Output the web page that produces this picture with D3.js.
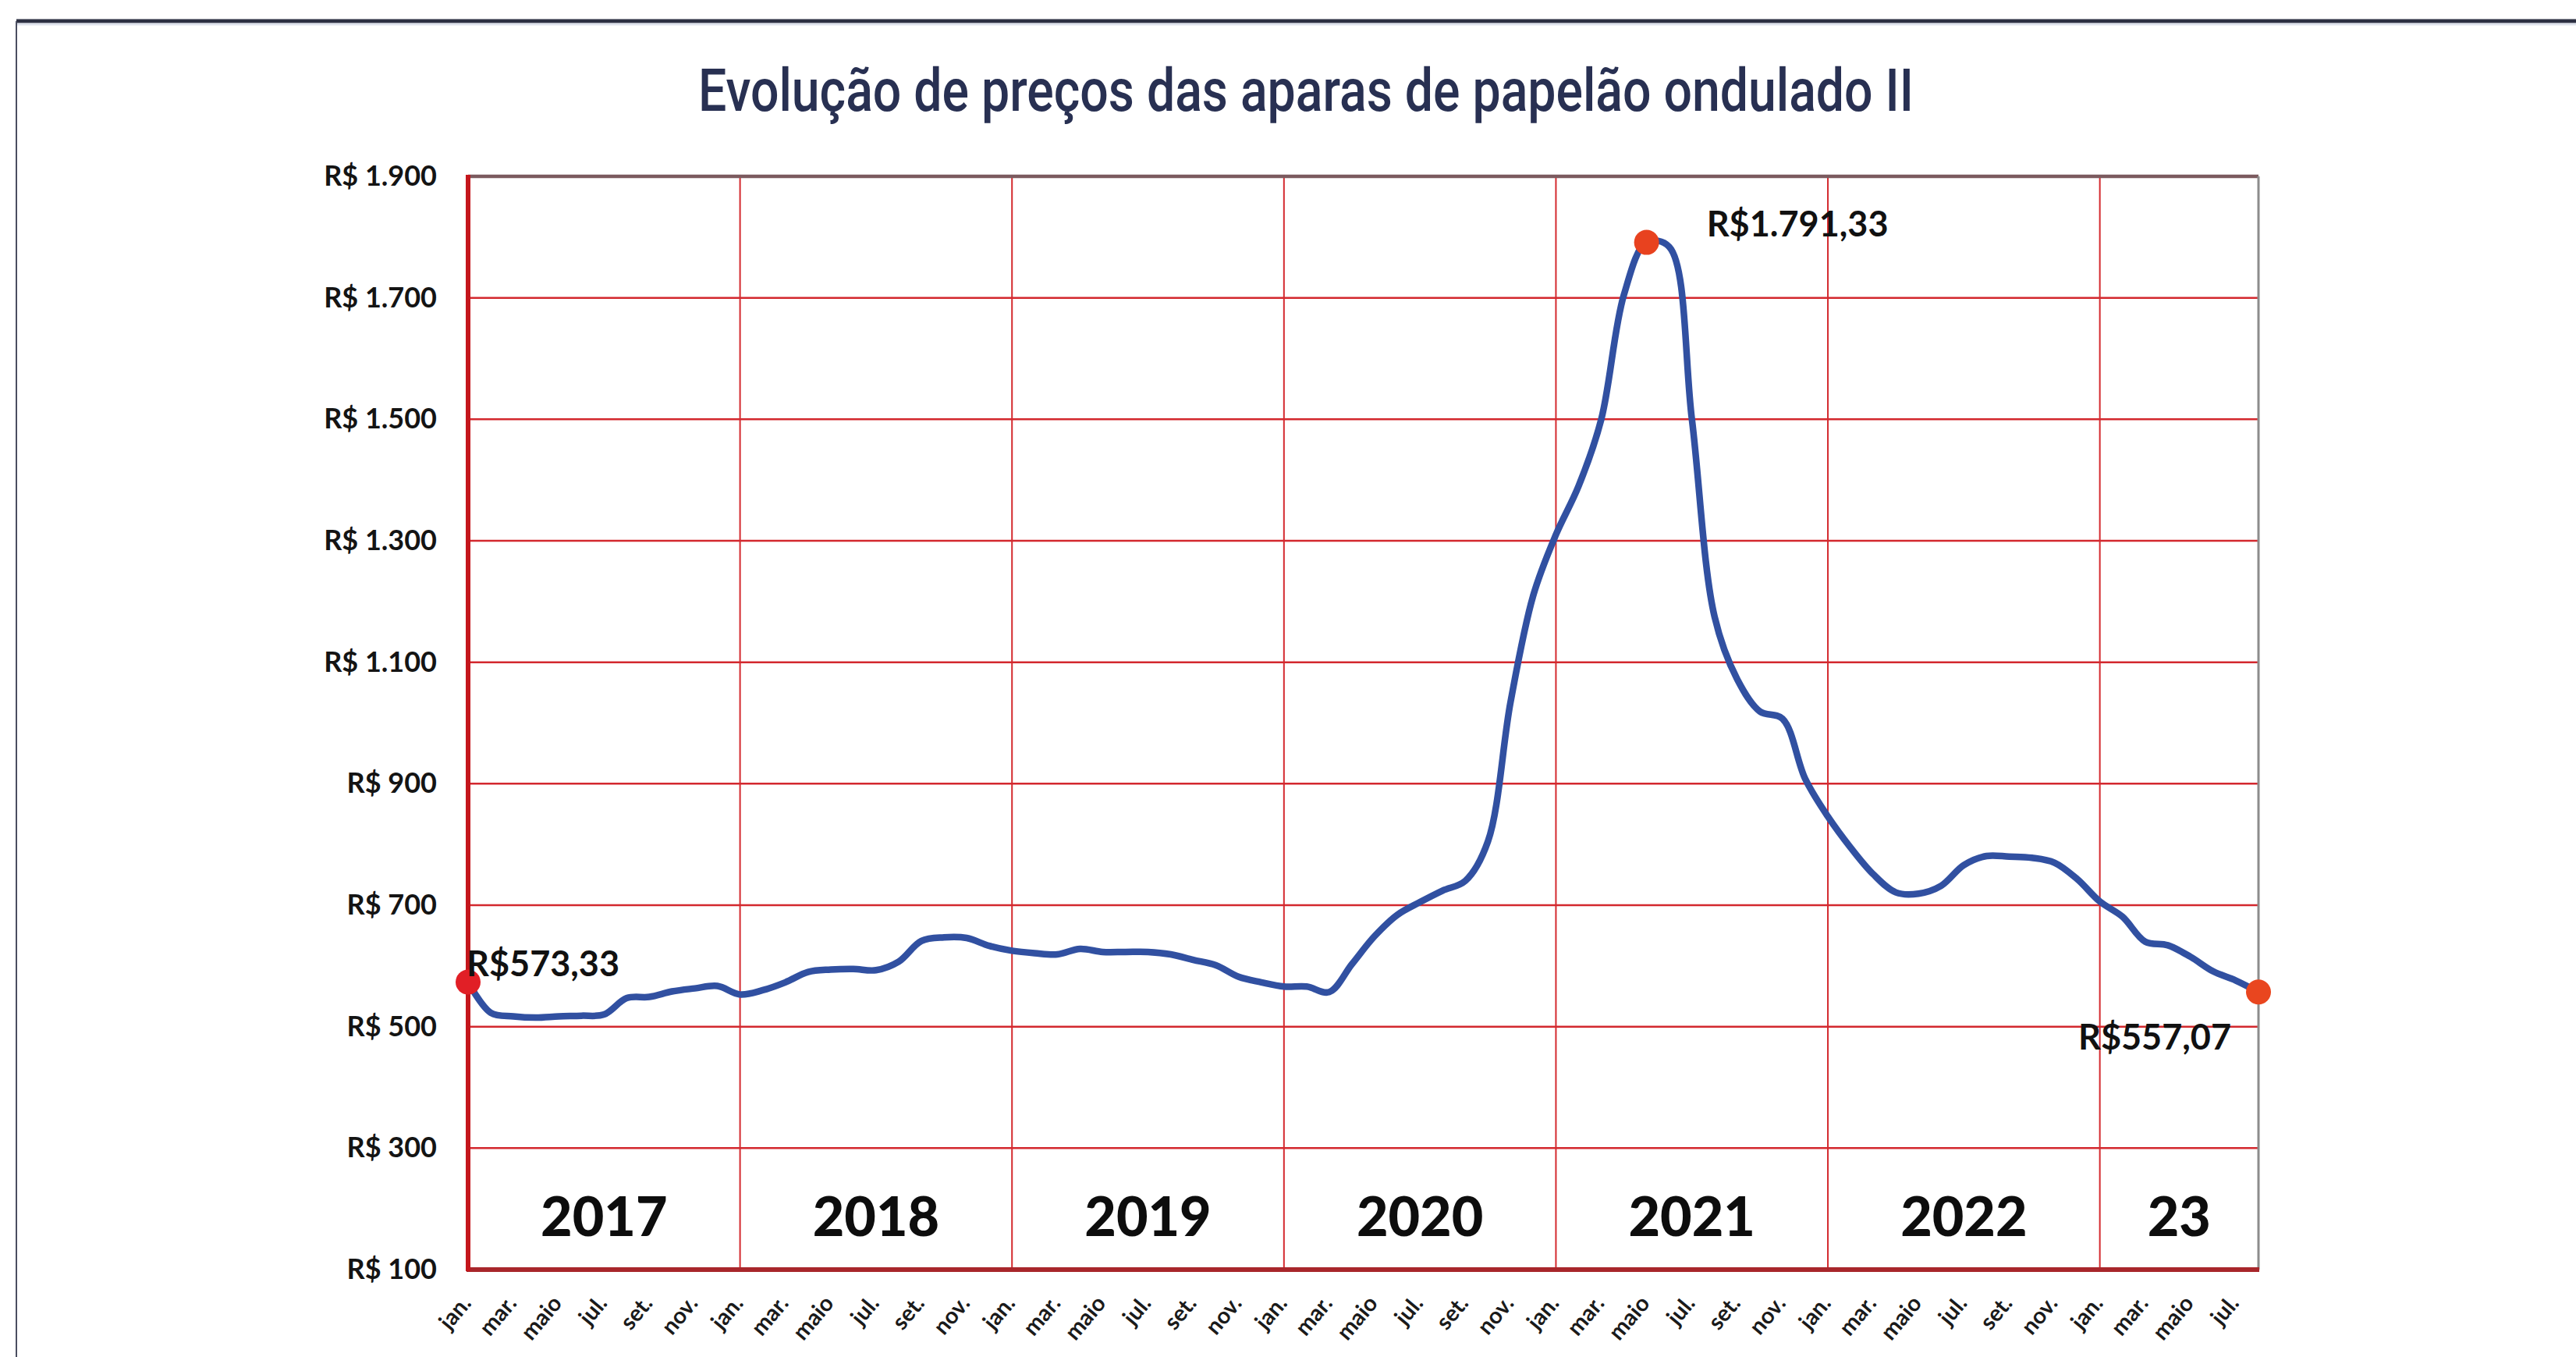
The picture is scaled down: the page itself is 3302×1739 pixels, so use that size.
<!DOCTYPE html>
<html>
<head>
<meta charset="utf-8">
<script src="https://cdn.jsdelivr.net/npm/d3@7"></script>
<style>
  html, body { margin: 0; padding: 0; background: #ffffff; }
  svg { display: block; }
</style>
</head>
<body>
<svg id="chart" width="3302" height="1739"></svg>
<script>
// ---------- DATA ----------
const title = "Evolução de preços das aparas de papelão ondulado II";
const years = [2017, 2018, 2019, 2020, 2021, 2022, 2023];
const yearLabels = ["2017", "2018", "2019", "2020", "2021", "2022", "23"];
const monthNames = ["jan.", "fev.", "mar.", "abr.", "maio", "jun.", "jul.", "ago.", "set.", "out.", "nov.", "dez."];
const prices = [
  573.33, 523, 517, 515, 517, 518, 520, 547, 549, 558, 563, 567,   // 2017
  553, 560, 573, 590, 594, 595, 593, 607, 641, 647, 646, 633,      // 2018
  625, 621, 619, 628, 623, 623, 623, 619, 610, 601, 582, 573,      // 2019
  566, 566, 557, 603, 649, 684, 705, 724, 740, 805, 1035, 1210,    // 2020
  1310, 1390, 1500, 1705, 1791.33, 1784, 1500, 1175, 1072, 1019, 1007, 908, // 2021
  846, 795, 751, 721, 719, 732, 766, 781, 780, 778, 770, 743,      // 2022
  706, 681, 640, 634, 615, 591, 576, 557.07                        // 2023 (jan-ago)
];
const yTicks = [100, 300, 500, 700, 900, 1100, 1300, 1500, 1700, 1900];
const highlights = [
  { index: 0,  label: "R$573,33" },
  { index: 52, label: "R$1.791,33" },
  { index: 79, label: "R$557,07" }
];

// categories: one per month
const categories = [];
years.forEach(y => monthNames.forEach((m, k) => categories.push({ key: y + "-" + (k + 1), year: y, month: m, k })));
categories.length = prices.length;
const series = prices.map((v, i) => ({ cat: categories[i], value: v }));

// ---------- LAYOUT ----------
const L = 600, R = 2895, T = 226, B = 1627;
const svg = d3.select("#chart");

const x = d3.scalePoint().domain(categories.map(c => c.key)).range([L, R]).padding(0);
const y = d3.scaleLinear().domain([100, 1900]).range([B, T]);

const ptBR = d3.formatLocale({ decimal: ",", thousands: ".", grouping: [3], currency: ["R$ ", ""] });
const fmt = ptBR.format(",.0f");

// frame
svg.append("line").attr("x1", 21).attr("x2", 3302).attr("y1", 27).attr("y2", 27)
  .attr("stroke", "#2d3042").attr("stroke-width", 5);
svg.append("line").attr("x1", 21).attr("x2", 3302).attr("y1", 31).attr("y2", 31)
  .attr("stroke", "#c9cfe0").attr("stroke-width", 3).attr("opacity", 0.6);
svg.append("line").attr("x1", 21).attr("x2", 21).attr("y1", 27).attr("y2", 1739)
  .attr("stroke", "#4a4e60").attr("stroke-width", 2);

// title
svg.append("text")
  .attr("x", 1674).attr("y", 142)
  .attr("text-anchor", "middle")
  .attr("font-family", "Roboto, 'Noto Sans', sans-serif")
  .attr("font-weight", 500)
  .attr("font-size", 76)
  .attr("fill", "#283052")
  .attr("textLength", 1558)
  .attr("lengthAdjust", "spacingAndGlyphs")
  .text(title);

// horizontal gridlines
svg.append("g").selectAll("line")
  .data(yTicks.filter(v => v !== 100 && v !== 1900))
  .join("line")
  .attr("x1", L).attr("x2", R)
  .attr("y1", d => y(d)).attr("y2", d => y(d))
  .attr("stroke", "#d3282e").attr("stroke-width", 2.5);

// vertical year separators
const yearStarts = categories.filter(c => c.k === 0 && c.year !== years[0]);
svg.append("g").selectAll("line")
  .data(yearStarts)
  .join("line")
  .attr("x1", d => x(d.key)).attr("x2", d => x(d.key))
  .attr("y1", T).attr("y2", B)
  .attr("stroke", "#d42a2f").attr("stroke-width", 2);

// plot borders
svg.append("line").attr("x1", L).attr("x2", R).attr("y1", y(1900)).attr("y2", y(1900))
  .attr("stroke", "#7b5a5e").attr("stroke-width", 4.5);
svg.append("line").attr("x1", R).attr("x2", R).attr("y1", T).attr("y2", B)
  .attr("stroke", "#8c8c8c").attr("stroke-width", 3);
svg.append("line").attr("x1", L - 2).attr("x2", R + 1).attr("y1", y(100)).attr("y2", y(100))
  .attr("stroke", "#a8262b").attr("stroke-width", 6);
svg.append("line").attr("x1", L).attr("x2", L).attr("y1", T - 2).attr("y2", B + 2)
  .attr("stroke", "#c4161c").attr("stroke-width", 6);

// y axis labels
const yAxis = d3.axisLeft(y).tickValues(yTicks).tickSize(0).tickPadding(40)
  .tickFormat(d => "R$ " + fmt(d));
const gy = svg.append("g").attr("transform", `translate(${L},0)`).call(yAxis);
gy.select(".domain").remove();
gy.selectAll("text")
  .attr("font-family", "Lato, 'Open Sans', sans-serif")
  .attr("font-weight", 700)
  .attr("font-size", 36)
  .attr("fill", "#141414");

// x axis month labels (every other month)
const xAxis = d3.axisBottom(x)
  .tickValues(categories.filter((c, i) => i % 2 === 0).map(c => c.key))
  .tickSize(0)
  .tickFormat(k => categories.find(c => c.key === k).month);
const gx = svg.append("g").attr("transform", `translate(0,${B})`).call(xAxis);
gx.select(".domain").remove();
gx.selectAll("text")
  .attr("font-family", "Lato, 'Open Sans', sans-serif")
  .attr("font-weight", 700)
  .attr("font-size", 29)
  .attr("fill", "#1a1a1a")
  .attr("text-anchor", "end")
  .attr("dy", null)
  .attr("y", 0)
  .attr("transform", "translate(5,44) rotate(-50)");

// year labels
svg.append("g").selectAll("text")
  .data(years.map((yr, j) => {
    const idx = categories.map((c, i) => c.year === yr ? i : -1).filter(i => i >= 0);
    const x0 = x(categories[idx[0]].key);
    const x1 = j < years.length - 1 ? x(categories[idx[0] + 12].key) : R;
    return { label: yearLabels[j], cx: (x0 + x1) / 2 };
  }))
  .join("text")
  .attr("x", d => d.cx)
  .attr("y", y(155))
  .attr("text-anchor", "middle")
  .attr("font-family", "Lato, 'Open Sans', sans-serif")
  .attr("font-weight", 900)
  .attr("font-size", 70)
  .attr("fill", "#0d0d0d")
  .text(d => d.label);

// price line
const line = d3.line()
  .x(d => x(d.cat.key))
  .y(d => y(d.value))
  .curve(d3.curveCatmullRom.alpha(0.5));
svg.append("path")
  .datum(series)
  .attr("d", line)
  .attr("fill", "none")
  .attr("stroke", "#3150a1")
  .attr("stroke-width", 8.5)
  .attr("stroke-linejoin", "round")
  .attr("stroke-linecap", "round");

// highlighted points
const dotColors = ["#e11f26", "#e8421f", "#e9461f"];
svg.append("g").selectAll("circle")
  .data(highlights)
  .join("circle")
  .attr("cx", d => x(categories[d.index].key))
  .attr("cy", d => y(prices[d.index]))
  .attr("r", 16)
  .attr("fill", (d, i) => dotColors[i]);

// highlight labels
const labelOffsets = [[-2, -8], [77, -8], [-133, 74]];
svg.append("g").selectAll("text")
  .data(highlights)
  .join("text")
  .attr("x", (d, i) => x(categories[d.index].key) + labelOffsets[i][0])
  .attr("y", (d, i) => y(prices[d.index]) + labelOffsets[i][1])
  .attr("text-anchor", (d, i) => i === 2 ? "middle" : "start")
  .attr("font-family", "Lato, 'Open Sans', sans-serif")
  .attr("font-weight", 700)
  .attr("font-size", 45)
  .attr("fill", "#111111")
  .text(d => d.label);
</script>
</body>
</html>
